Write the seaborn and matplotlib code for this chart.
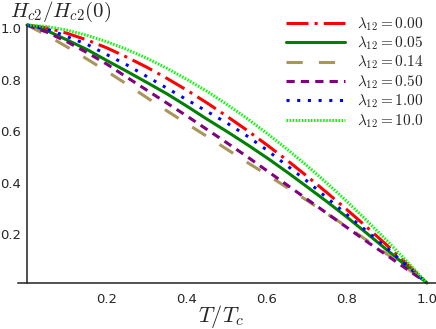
import matplotlib
matplotlib.use("Agg")
import matplotlib.pyplot as plt
import numpy as np
import pandas as pd
import seaborn as sns
from matplotlib.ticker import MultipleLocator, FixedLocator
from matplotlib.transforms import ScaledTranslation

# reduced temperature T/Tc
t_vals = [0.00, 0.05, 0.10, 0.15, 0.20, 0.25, 0.30, 0.35, 0.40, 0.45, 0.50,
          0.55, 0.60, 0.65, 0.70, 0.75, 0.80, 0.85, 0.90, 0.95, 1.00]

# Hc2/Hc2(0), one list per lambda_12
h_000 = [1.000, 0.989, 0.968, 0.942, 0.911, 0.875, 0.836, 0.793, 0.747, 0.698, 0.646,
         0.592, 0.535, 0.476, 0.414, 0.350, 0.284, 0.216, 0.146, 0.074, 0.000]
h_005 = [1.000, 0.978, 0.942, 0.905, 0.862, 0.820, 0.777, 0.733, 0.685, 0.635, 0.587,
         0.537, 0.485, 0.430, 0.373, 0.315, 0.255, 0.192, 0.128, 0.064, 0.000]
h_014 = [1.000, 0.960, 0.915, 0.868, 0.820, 0.770, 0.718, 0.667, 0.617, 0.568, 0.518,
         0.468, 0.420, 0.370, 0.320, 0.268, 0.218, 0.165, 0.112, 0.057, 0.000]
h_050 = [1.000, 0.972, 0.935, 0.893, 0.848, 0.797, 0.747, 0.697, 0.647, 0.595, 0.543,
         0.490, 0.435, 0.380, 0.325, 0.270, 0.215, 0.160, 0.107, 0.053, 0.000]
h_100 = [1.000, 0.985, 0.955, 0.925, 0.885, 0.845, 0.800, 0.755, 0.710, 0.665, 0.620,
         0.570, 0.515, 0.455, 0.395, 0.330, 0.265, 0.200, 0.135, 0.067, 0.000]
h_10 = [1.000, 0.994, 0.980, 0.960, 0.935, 0.905, 0.871, 0.832, 0.789, 0.743, 0.692,
        0.638, 0.580, 0.519, 0.455, 0.387, 0.316, 0.241, 0.164, 0.083, 0.000]

labels = ["0.00", "0.05", "0.14", "0.50", "1.00", "10.0"]
series = [h_000, h_005, h_014, h_050, h_100, h_10]
colors = ["#ff0000", "#008000", "#a8965a", "#800080", "#0000ff", "#00ff00"]
styles = [
    (0, (7.2, 2.0, 1.0, 2.0)),
    "-",
    (0, (5.3, 5.3)),
    (0, (2.7, 2.0)),
    (0, (1.0, 2.5)),
    (0, (0.5, 0.5)),
]


def main() -> None:
    sns.set_style("white")
    plt.rcParams["mathtext.fontset"] = "cm"
    plt.rcParams["font.family"] = ["DejaVu Sans"]

    fig = plt.figure(figsize=(4.36, 3.29), dpi=100)
    ax = fig.add_axes([18 / 436, 46 / 329, 418 / 436, 258 / 329])

    for lab, h, col, ls in zip(labels, series, colors, styles):
        df = pd.DataFrame({"t": t_vals, "h": h})
        sns.lineplot(data=df, x="t", y="h", ax=ax, color=col, linestyle=ls,
                     linewidth=2.2, label=rf"$\lambda_{{12}} = {lab}$", clip_on=False)

    ax.set_xlim(-0.0225, 1.0225)
    ax.set_ylim(0, 1.0)

    for side in ["top", "right"]:
        ax.spines[side].set_visible(False)
    ax.spines["left"].set_position(("data", 0))
    ax.spines["bottom"].set_position(("data", 0))
    for side in ["left", "bottom"]:
        ax.spines[side].set_linewidth(1.1)
        ax.spines[side].set_color("#222222")

    ticks = [0.2, 0.4, 0.6, 0.8, 1.0]
    ax.xaxis.set_major_locator(FixedLocator(ticks))
    ax.yaxis.set_major_locator(FixedLocator(ticks))
    ax.xaxis.set_minor_locator(MultipleLocator(0.05))
    ax.yaxis.set_minor_locator(MultipleLocator(0.05))
    ax.set_xticklabels([f"{v:.1f}" for v in ticks])
    ax.set_yticklabels([f"{v:.1f}" for v in ticks])
    ax.tick_params(which="both", direction="in", color="#888888", width=0.7)
    ax.tick_params(which="major", length=4, labelsize=9.5)
    ax.tick_params(which="minor", length=2.5)
    ax.tick_params(axis="x", which="major", pad=7)
    ax.tick_params(axis="y", which="major", pad=4)
    # y tick labels sit a little below their ticks in the original
    shift = ScaledTranslation(0, -3 / 100, fig.dpi_scale_trans)
    for lbl in ax.get_yticklabels():
        lbl.set_transform(lbl.get_transform() + shift)

    ax.set_xlabel("")
    ax.set_ylabel("")
    fig.text(10 / 436, 1 - 17 / 329, r"$H_{c2}/H_{c2}(0)$", fontsize=15,
             ha="left", va="baseline")
    fig.text(198 / 436, 1 - 322 / 329, r"$T/T_c$", fontsize=16,
             ha="left", va="baseline")

    ax.legend(loc="upper right", bbox_to_anchor=(424 / 436, 1 - 15 / 329),
              bbox_transform=fig.transFigure, frameon=False, fontsize=11,
              handlelength=3.85, handletextpad=0.8, labelspacing=0.12,
              borderpad=0, borderaxespad=0)

    fig.savefig("out.png", dpi=100)
    plt.close(fig)


if __name__ == "__main__":
    main()
